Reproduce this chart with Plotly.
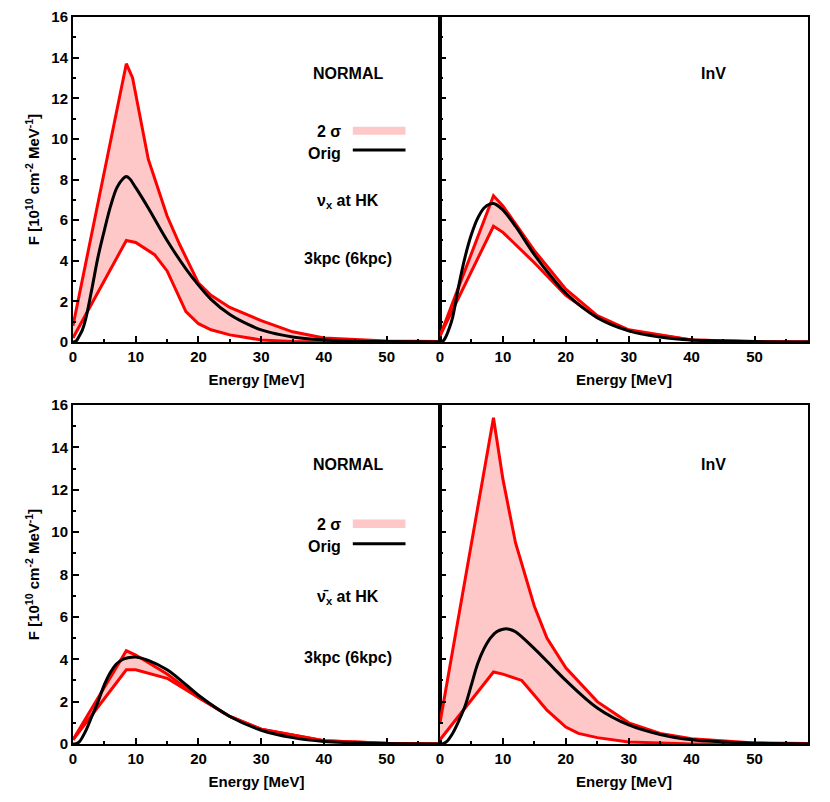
import plotly.graph_objects as go

E_tl_up = [0, 8.5, 9.5, 12, 15, 17, 20, 22, 25, 28, 30, 35, 40, 50, 59]
F_tl_up = [0.8, 13.7, 13.0, 9.0, 6.2, 4.8, 2.9, 2.3, 1.7, 1.3, 1.05, 0.5, 0.2, 0.05, 0.02]
E_tl_lo = [0, 8.5, 10, 13, 15, 17, 18, 20, 22, 25, 30, 35, 40, 59]
F_tl_lo = [0.2, 5.0, 4.9, 4.3, 3.5, 2.2, 1.5, 0.9, 0.6, 0.35, 0.1, 0.02, 0.0, 0.0]
E_tl_or = [0, 0.5, 1, 1.5, 2, 3, 4, 5, 6, 7, 8, 8.5, 9, 10, 12, 15, 18, 20, 22, 25, 28, 30, 35, 40, 45, 50, 59]
F_tl_or = [0, 0.05, 0.3, 0.6, 1.1, 2.6, 4.2, 5.5, 6.7, 7.6, 8.05, 8.15, 8.05, 7.6, 6.6, 5.0, 3.6, 2.8, 2.1, 1.35, 0.85, 0.6, 0.25, 0.1, 0.04, 0.02, 0.0]

E_tr_up = [0, 8.5, 10, 15, 20, 25, 30, 40, 50, 59]
F_tr_up = [0.3, 7.2, 6.7, 4.5, 2.6, 1.3, 0.6, 0.1, 0.02, 0.0]
E_tr_lo = [0, 8.5, 10, 15, 20, 25, 30, 40, 50, 59]
F_tr_lo = [0.3, 5.7, 5.4, 3.9, 2.3, 1.2, 0.55, 0.1, 0.02, 0.0]
E_tr_or = [0, 0.5, 1, 1.5, 2, 3, 4, 5, 6, 7, 8, 8.5, 9, 10, 12, 15, 18, 20, 25, 30, 35, 40, 50, 59]
F_tr_or = [0, 0.05, 0.3, 0.7, 1.2, 2.8, 4.2, 5.3, 6.1, 6.6, 6.8, 6.82, 6.75, 6.5, 5.7, 4.3, 3.1, 2.4, 1.2, 0.55, 0.25, 0.1, 0.02, 0.0]

E_bl_up = [0, 8.5, 10, 15, 20, 25, 30, 40, 50, 59]
F_bl_up = [0.2, 4.4, 4.2, 3.3, 2.2, 1.3, 0.7, 0.15, 0.03, 0.0]
E_bl_lo = [0, 8.5, 10, 15, 20, 25, 30, 40, 50, 59]
F_bl_lo = [0.2, 3.5, 3.5, 3.1, 2.2, 1.3, 0.7, 0.15, 0.03, 0.0]
E_bl_or = [0, 0.5, 1, 2, 3, 4, 5, 6, 7, 8, 9, 10, 12, 15, 18, 20, 25, 30, 35, 40, 50, 59]
F_bl_or = [0, 0.02, 0.1, 0.6, 1.3, 2.0, 2.8, 3.4, 3.8, 4.0, 4.08, 4.1, 3.95, 3.5, 2.8, 2.3, 1.3, 0.65, 0.3, 0.12, 0.02, 0.0]

E_br_up = [0, 8.5, 10, 12, 15, 17, 20, 25, 30, 35, 40, 50, 59]
F_br_up = [1.0, 15.4, 12.5, 9.5, 6.5, 5.0, 3.6, 2.0, 1.0, 0.5, 0.25, 0.05, 0.02]
E_br_lo = [0, 8.5, 10, 13, 15, 17, 20, 22, 25, 30, 40, 59]
F_br_lo = [0.2, 3.4, 3.3, 3.0, 2.3, 1.6, 0.8, 0.5, 0.3, 0.1, 0.0, 0.0]
E_br_or = [0, 0.5, 1, 2, 3, 4, 5, 6, 7, 8, 9, 10, 11, 12, 15, 18, 20, 25, 30, 35, 40, 45, 50, 59]
F_br_or = [0, 0.02, 0.1, 0.5, 1.1, 1.8, 2.8, 3.8, 4.5, 5.0, 5.3, 5.42, 5.42, 5.3, 4.5, 3.6, 3.0, 1.7, 0.9, 0.45, 0.2, 0.1, 0.04, 0.0]

panels = [
    ("x", "y", E_tl_up, F_tl_up, E_tl_lo, F_tl_lo, E_tl_or, F_tl_or),
    ("x2", "y2", E_tr_up, F_tr_up, E_tr_lo, F_tr_lo, E_tr_or, F_tr_or),
    ("x3", "y3", E_bl_up, F_bl_up, E_bl_lo, F_bl_lo, E_bl_or, F_bl_or),
    ("x4", "y4", E_br_up, F_br_up, E_br_lo, F_br_lo, E_br_or, F_br_or),
]

RED = "#ff0000"
FILL = "rgba(255,200,200,1)"
fig = go.Figure()
for xa, ya, eu, fu, el, fl, eo, fo in panels:
    fig.add_trace(go.Scatter(x=el + eu[::-1], y=fl + fu[::-1], fill="toself", fillcolor=FILL,
                             line=dict(width=0), mode="lines", xaxis=xa, yaxis=ya, showlegend=False, hoverinfo="skip"))
    fig.add_trace(go.Scatter(x=eu, y=fu, mode="lines", line=dict(color=RED, width=3), xaxis=xa, yaxis=ya, showlegend=False))
    fig.add_trace(go.Scatter(x=el, y=fl, mode="lines", line=dict(color=RED, width=3), xaxis=xa, yaxis=ya, showlegend=False))
    fig.add_trace(go.Scatter(x=eo, y=fo, mode="lines", line=dict(color="black", width=3, shape="spline"),
                             xaxis=xa, yaxis=ya, showlegend=False))

W, H = 814, 786
l, r, t, b = 65, 14, 9, 50
pw = W - l - r
ph = H - t - b
xl = [0, (432 - 65) / pw]
xr = [(432 - 65) / pw, 1]
yt = [1 - (334 - t) / ph, 1]
yb = [0, 1 - (397 - t) / ph]

font = dict(family="Liberation Sans", size=15, color="black")
tf = dict(family="Liberation Sans", size=15, color="black")
ax = dict(range=[0, 58.5], showgrid=False, zeroline=False, showline=True, linecolor="black", linewidth=2,
          mirror=True, ticks="inside", ticklen=6, tickwidth=1.5, tickcolor="black", dtick=10,
          minor=dict(ticks="inside", ticklen=3, dtick=5, tickcolor="black"),
          tickfont=tf, title=dict(text="<b>Energy [MeV]</b>", font=font, standoff=10),
          tickprefix="<b>", ticksuffix="</b>", ticklabeloverflow="allow")
ay = dict(range=[0, 16], showgrid=False, zeroline=False, showline=True, linecolor="black", linewidth=2,
          mirror=True, ticks="inside", ticklen=6, tickwidth=1.5, tickcolor="black", dtick=2,
          minor=dict(ticks="inside", ticklen=3, dtick=1, tickcolor="black"),
          tickfont=tf, tickprefix="<b>", ticksuffix="</b>", ticklabeloverflow="allow")
ytitle = dict(text="<b>F [10<sup>10</sup> cm<sup>-2</sup> MeV<sup>-1</sup>]</b>", font=font, standoff=8)

fig.update_layout(
    width=W, height=H, margin=dict(l=l, r=r, t=t, b=b, autoexpand=False),
    paper_bgcolor="white", plot_bgcolor="white", showlegend=False,
    xaxis=dict(ax, domain=xl, anchor="y"),
    yaxis=dict(ay, domain=yt, anchor="x", title=ytitle),
    xaxis2=dict(ax, domain=xr, anchor="y2"),
    yaxis2=dict(ay, domain=yt, anchor="x2", showticklabels=False),
    xaxis3=dict(ax, domain=xl, anchor="y3"),
    yaxis3=dict(ay, domain=yb, anchor="x3", title=ytitle),
    xaxis4=dict(ax, domain=xr, anchor="y4"),
    yaxis4=dict(ay, domain=yb, anchor="x4", showticklabels=False),
)

anns = []
shapes = []
def txt(xa, ya, x, y, s, anchor="center"):
    anns.append(dict(xref=xa, yref=ya, x=x, y=y, text=s, showarrow=False, xanchor=anchor,
                     font=dict(family="Liberation Sans", size=16, color="black")))

for xa, ya, nu in [("x", "y", "ν<sub>x</sub>"), ("x3", "y3", "ν̄<sub>x</sub>")]:
    txt(xa, ya, 43.8, 13.2, "<b>NORMAL</b>")
    txt(xa, ya, 43.8, 6.9, "<b>" + nu + " at HK</b>")
    txt(xa, ya, 43.8, 4.1, "<b>3kpc (6kpc)</b>")
    txt(xa, ya, 43.0, 10.35, "<b>2 σ</b>", "right")
    txt(xa, ya, 43.0, 9.3, "<b>Orig</b>", "right")
    shapes.append(dict(type="rect", xref=xa, yref=ya, x0=44.6, x1=53.0, y0=10.2, y1=10.6,
                       fillcolor=FILL, line=dict(width=0)))
    shapes.append(dict(type="line", xref=xa, yref=ya, x0=44.6, x1=53.0, y0=9.45, y1=9.45,
                       line=dict(color="black", width=3)))
for xa, ya in [("x2", "y2"), ("x4", "y4")]:
    txt(xa, ya, 43.4, 13.2, "<b>InV</b>")

fig.update_layout(annotations=anns, shapes=shapes)
fig.write_html("out.html")
